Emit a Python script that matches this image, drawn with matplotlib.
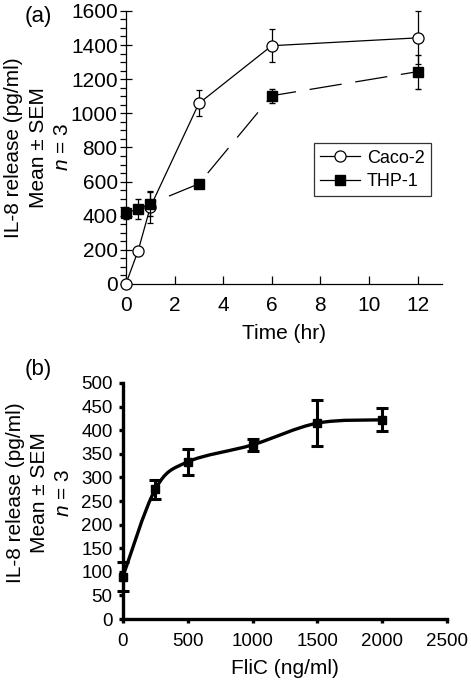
import numpy as np
import matplotlib
matplotlib.use('Agg')
import matplotlib.pyplot as plt
from matplotlib.path import Path
from matplotlib.patches import PathPatch
from matplotlib.lines import Line2D
from matplotlib.ticker import MultipleLocator

plt.rcParams['font.family'] = ['Liberation Sans', 'DejaVu Sans']
plt.rcParams['mathtext.fontset'] = 'custom'
plt.rcParams['mathtext.rm'] = 'Liberation Sans'
plt.rcParams['mathtext.it'] = 'Liberation Sans:italic'

# panel (a): time course
time_hr = [0, 0.5, 1, 3, 6, 12]
caco2 = [2, 195, 450, 1058, 1396, 1442]
caco2_err = [0, 0, 95, 76, 95, 155]
thp1 = [415, 440, 470, 587, 1103, 1244]
thp1_err = [35, 60, 70, 15, 40, 100]

# panel (b): FliC dose response
flic = [0, 250, 500, 1000, 1500, 2000]
il8 = [90, 275, 333, 369, 415, 422]
il8_err = [30, 20, 28, 13, 49, 24]

ylab = 'IL-8 release (pg/ml)\nMean \u00b1 SEM\n$\\it{n}$ = 3'


def smooth_path(x, y, tension=1/6):
    # bezier through the points (Catmull-Rom style control points)
    pts = np.column_stack([x, y]).astype(float)
    verts = [pts[0]]
    codes = [Path.MOVETO]
    n = len(pts)
    for i in range(n - 1):
        p0 = pts[max(i - 1, 0)]
        p1 = pts[i]
        p2 = pts[i + 1]
        p3 = pts[min(i + 2, n - 1)]
        c1 = p1 + (p2 - p0) * tension
        c2 = p2 - (p3 - p1) * tension
        verts += [c1, c2, p2]
        codes += [Path.CURVE4] * 3
    return Path(verts, codes)


fig = plt.figure(figsize=(4.71, 6.81), dpi=100)

# ---- (a)
ax1 = fig.add_axes([0.2675, 0.583, 0.6705, 0.401])
ax1.errorbar(time_hr, caco2, yerr=caco2_err, color='black', lw=0.9,
             marker='o', mfc='white', mec='black', ms=8, mew=0.9,
             capsize=2.5, elinewidth=0.9, zorder=3, clip_on=False)
ax1.errorbar(time_hr, thp1, yerr=thp1_err, color='black', lw=0.9,
             ls=(0, (26, 11)), marker='s', mfc='black', ms=7.5,
             capsize=2.5, elinewidth=0.9, zorder=4, clip_on=False)
ax1.set_xlim(0, 13)
ax1.set_ylim(0, 1600)
ax1.set_xticks([0, 2, 4, 6, 8, 10, 12])
ax1.yaxis.set_major_locator(MultipleLocator(200))
ax1.yaxis.set_minor_locator(MultipleLocator(50))
ax1.spines[['top', 'right']].set_visible(False)
for s in ['left', 'bottom']:
    ax1.spines[s].set_linewidth(0.9)
ax1.tick_params(axis='x', direction='in', length=6, width=0.9, labelsize=15, pad=9)
ax1.tick_params(axis='y', which='major', direction='inout', length=8, width=0.9,
                labelsize=15, pad=2)
ax1.tick_params(axis='y', which='minor', direction='out', length=4, width=0.9)
ax1.set_xlabel('Time (hr)', fontsize=15, labelpad=6)
ax1.set_ylabel(ylab, fontsize=15, linespacing=1.35)
ax1.yaxis.set_label_coords(-0.171, 0.5)
handles = [Line2D([], [], color='black', lw=0.9, marker='o', mfc='white', ms=8, mew=0.9),
           Line2D([], [], color='black', lw=0.9, marker='s', mfc='black', ms=7.5)]
leg = ax1.legend(handles, ['Caco-2', 'THP-1'], loc='upper left',
                 bbox_to_anchor=(0.594, 0.515), fontsize=13,
                 frameon=True, fancybox=False, edgecolor='black',
                 handlelength=2.2, handletextpad=0.4, borderpad=0.35,
                 labelspacing=0.35, borderaxespad=0)
leg.get_frame().set_linewidth(0.9)
fig.text(0.053, 0.976, '(a)', fontsize=16, va='center', ha='left')

# ---- (b)
ax2 = fig.add_axes([0.261, 0.091, 0.688, 0.3466])
ax2.add_patch(PathPatch(smooth_path(flic, il8), fill=False, lw=2.4,
                        ec='black', zorder=3, clip_on=False))
ax2.errorbar(flic, il8, yerr=il8_err, ls='none', color='black',
             marker='s', ms=6, capsize=4, elinewidth=2.2, capthick=2.2,
             zorder=4, clip_on=False)
ax2.set_xlim(0, 2500)
ax2.set_ylim(0, 500)
ax2.xaxis.set_major_locator(MultipleLocator(500))
ax2.yaxis.set_major_locator(MultipleLocator(50))
ax2.spines[['top', 'right']].set_visible(False)
for s in ['left', 'bottom']:
    ax2.spines[s].set_linewidth(2.4)
ax2.tick_params(axis='both', direction='out', length=3, width=2.4,
                labelsize=13.5, pad=4.5)
ax2.tick_params(axis='x', pad=7)
ax2.set_xlabel('FliC (ng/ml)', fontsize=15, labelpad=6.5)
ax2.set_ylabel(ylab, fontsize=15, linespacing=1.35)
ax2.yaxis.set_label_coords(-0.154, 0.536)
fig.text(0.053, 0.457, '(b)', fontsize=16, va='center', ha='left')

fig.savefig('out.png', dpi=100)
